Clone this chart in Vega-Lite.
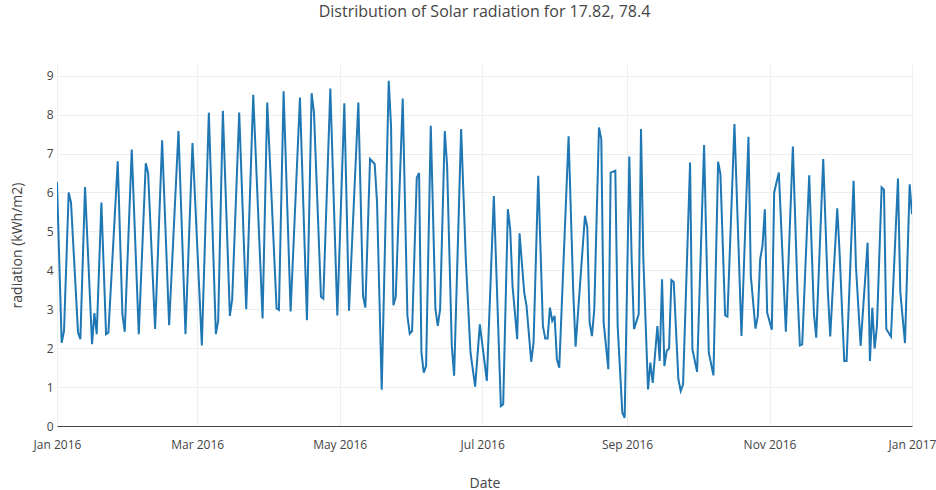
{
  "$schema": "https://vega.github.io/schema/vega-lite/v6.json",
  "autosize": {"type": "none"},
  "width": 855,
  "height": 362,
  "padding": {"left": 57, "top": 64, "right": 24, "bottom": 64},
  "background": "white",
  "title": {
    "text": "Distribution of Solar radiation for 17.82, 78.4",
    "font": "Open Sans",
    "fontSize": 16,
    "fontWeight": "normal",
    "color": "#444",
    "anchor": "middle",
    "offset": 44
  },
  "config": {
    "view": {"stroke": null},
    "axis": {"labelFont": "Open Sans", "titleFont": "Open Sans", "labelColor": "#444", "titleColor": "#444", "titleFontWeight": "normal"}
  },
  "data": {"values": [
    {"d":"2016-01-01","v":6.26},{"d":"2016-01-03","v":2.14},{"d":"2016-01-04","v":2.44},{"d":"2016-01-06","v":6.0},{"d":"2016-01-07","v":5.74},
    {"d":"2016-01-10","v":2.4},{"d":"2016-01-11","v":2.23},{"d":"2016-01-13","v":6.14},{"d":"2016-01-16","v":2.1},{"d":"2016-01-17","v":2.9},
    {"d":"2016-01-18","v":2.36},{"d":"2016-01-20","v":5.74},{"d":"2016-01-22","v":2.36},{"d":"2016-01-23","v":2.4},{"d":"2016-01-27","v":6.8},
    {"d":"2016-01-29","v":2.87},{"d":"2016-01-30","v":2.42},{"d":"2016-02-02","v":7.1},{"d":"2016-02-05","v":2.36},{"d":"2016-02-08","v":6.75},
    {"d":"2016-02-09","v":6.5},{"d":"2016-02-12","v":2.49},{"d":"2016-02-15","v":7.34},{"d":"2016-02-18","v":2.59},{"d":"2016-02-22","v":7.58},
    {"d":"2016-02-25","v":2.36},{"d":"2016-02-28","v":7.27},{"d":"2016-03-03","v":2.07},{"d":"2016-03-06","v":8.05},{"d":"2016-03-09","v":2.36},
    {"d":"2016-03-10","v":2.7},{"d":"2016-03-12","v":8.1},{"d":"2016-03-15","v":2.83},{"d":"2016-03-16","v":3.26},{"d":"2016-03-19","v":8.05},
    {"d":"2016-03-22","v":3.0},{"d":"2016-03-25","v":8.51},{"d":"2016-03-29","v":2.76},{"d":"2016-03-31","v":8.31},{"d":"2016-04-04","v":3.02},
    {"d":"2016-04-05","v":2.98},{"d":"2016-04-07","v":8.6},{"d":"2016-04-10","v":2.94},{"d":"2016-04-14","v":8.44},{"d":"2016-04-17","v":2.72},
    {"d":"2016-04-19","v":8.55},{"d":"2016-04-20","v":8.05},{"d":"2016-04-23","v":3.32},{"d":"2016-04-24","v":3.27},{"d":"2016-04-27","v":8.67},
    {"d":"2016-04-30","v":2.84},{"d":"2016-05-03","v":8.29},{"d":"2016-05-05","v":2.96},{"d":"2016-05-09","v":8.31},{"d":"2016-05-11","v":3.34},
    {"d":"2016-05-12","v":3.04},{"d":"2016-05-14","v":6.86},{"d":"2016-05-16","v":6.73},{"d":"2016-05-17","v":5.74},{"d":"2016-05-19","v":0.93},
    {"d":"2016-05-22","v":8.87},{"d":"2016-05-23","v":7.7},{"d":"2016-05-24","v":3.1},{"d":"2016-05-25","v":3.32},{"d":"2016-05-28","v":8.41},
    {"d":"2016-05-30","v":2.83},{"d":"2016-05-31","v":2.37},{"d":"2016-06-01","v":2.44},{"d":"2016-06-03","v":6.38},{"d":"2016-06-04","v":6.5},
    {"d":"2016-06-05","v":1.89},{"d":"2016-06-06","v":1.37},{"d":"2016-06-07","v":1.54},{"d":"2016-06-09","v":7.71},{"d":"2016-06-11","v":3.0},
    {"d":"2016-06-12","v":2.57},{"d":"2016-06-13","v":3.0},{"d":"2016-06-15","v":7.58},{"d":"2016-06-16","v":6.68},{"d":"2016-06-18","v":2.06},
    {"d":"2016-06-19","v":1.29},{"d":"2016-06-22","v":7.63},{"d":"2016-06-24","v":4.28},{"d":"2016-06-26","v":1.89},{"d":"2016-06-28","v":1.01},
    {"d":"2016-06-30","v":2.61},{"d":"2016-07-03","v":1.16},{"d":"2016-07-06","v":5.91},{"d":"2016-07-09","v":0.51},{"d":"2016-07-10","v":0.56},
    {"d":"2016-07-12","v":5.57},{"d":"2016-07-13","v":5.06},{"d":"2016-07-14","v":3.6},{"d":"2016-07-16","v":2.23},{"d":"2016-07-17","v":4.95},
    {"d":"2016-07-19","v":3.43},{"d":"2016-07-20","v":3.08},{"d":"2016-07-22","v":1.65},{"d":"2016-07-23","v":2.14},{"d":"2016-07-25","v":6.43},
    {"d":"2016-07-27","v":2.57},{"d":"2016-07-28","v":2.25},{"d":"2016-07-29","v":2.25},{"d":"2016-07-30","v":3.04},{"d":"2016-07-31","v":2.7},
    {"d":"2016-08-01","v":2.83},{"d":"2016-08-02","v":1.71},{"d":"2016-08-03","v":1.5},{"d":"2016-08-07","v":7.44},{"d":"2016-08-09","v":3.43},
    {"d":"2016-08-10","v":2.04},{"d":"2016-08-14","v":5.4},{"d":"2016-08-15","v":5.1},{"d":"2016-08-16","v":2.66},{"d":"2016-08-17","v":2.31},
    {"d":"2016-08-18","v":3.0},{"d":"2016-08-20","v":7.67},{"d":"2016-08-21","v":7.37},{"d":"2016-08-22","v":2.66},{"d":"2016-08-24","v":1.46},
    {"d":"2016-08-25","v":6.51},{"d":"2016-08-27","v":6.56},{"d":"2016-08-28","v":2.57},{"d":"2016-08-30","v":0.34},{"d":"2016-08-31","v":0.21},
    {"d":"2016-09-02","v":6.92},{"d":"2016-09-03","v":4.28},{"d":"2016-09-04","v":2.49},{"d":"2016-09-06","v":2.87},{"d":"2016-09-07","v":7.63},
    {"d":"2016-09-08","v":4.28},{"d":"2016-09-10","v":0.94},{"d":"2016-09-11","v":1.63},{"d":"2016-09-12","v":1.11},{"d":"2016-09-14","v":2.57},
    {"d":"2016-09-15","v":1.67},{"d":"2016-09-16","v":3.77},{"d":"2016-09-17","v":1.54},{"d":"2016-09-18","v":1.93},{"d":"2016-09-19","v":1.99},
    {"d":"2016-09-20","v":3.75},{"d":"2016-09-21","v":3.7},{"d":"2016-09-23","v":1.2},{"d":"2016-09-24","v":0.9},{"d":"2016-09-25","v":1.07},
    {"d":"2016-09-28","v":6.77},{"d":"2016-09-29","v":1.97},{"d":"2016-10-01","v":1.39},{"d":"2016-10-04","v":7.22},{"d":"2016-10-06","v":1.89},
    {"d":"2016-10-08","v":1.3},{"d":"2016-10-10","v":6.79},{"d":"2016-10-11","v":6.47},{"d":"2016-10-13","v":2.84},{"d":"2016-10-14","v":2.81},
    {"d":"2016-10-17","v":7.76},{"d":"2016-10-20","v":2.31},{"d":"2016-10-23","v":7.43},{"d":"2016-10-24","v":3.86},{"d":"2016-10-26","v":2.5},
    {"d":"2016-10-27","v":2.83},{"d":"2016-10-28","v":4.28},{"d":"2016-10-29","v":4.63},{"d":"2016-10-30","v":5.57},{"d":"2016-10-31","v":2.91},
    {"d":"2016-11-02","v":2.47},{"d":"2016-11-03","v":6.0},{"d":"2016-11-05","v":6.51},{"d":"2016-11-08","v":2.42},{"d":"2016-11-11","v":7.18},
    {"d":"2016-11-13","v":3.43},{"d":"2016-11-14","v":2.07},{"d":"2016-11-15","v":2.1},{"d":"2016-11-18","v":6.44},{"d":"2016-11-20","v":2.91},
    {"d":"2016-11-21","v":2.27},{"d":"2016-11-24","v":6.86},{"d":"2016-11-26","v":3.43},{"d":"2016-11-27","v":2.3},{"d":"2016-11-28","v":3.43},
    {"d":"2016-11-30","v":5.59},{"d":"2016-12-01","v":4.46},{"d":"2016-12-03","v":1.67},{"d":"2016-12-04","v":1.67},{"d":"2016-12-07","v":6.3},
    {"d":"2016-12-08","v":4.11},{"d":"2016-12-10","v":2.06},{"d":"2016-12-13","v":4.71},{"d":"2016-12-14","v":1.67},{"d":"2016-12-15","v":3.04},
    {"d":"2016-12-16","v":1.99},{"d":"2016-12-17","v":2.57},{"d":"2016-12-19","v":6.13},{"d":"2016-12-20","v":6.07},{"d":"2016-12-21","v":2.49},
    {"d":"2016-12-23","v":2.3},{"d":"2016-12-26","v":6.36},{"d":"2016-12-27","v":3.43},{"d":"2016-12-29","v":2.13},{"d":"2016-12-31","v":6.21},
    {"d":"2017-01-01","v":5.44}
  ]},
  "mark": {"type": "line", "color": "#1f77b4", "strokeWidth": 2, "clip": true},
  "encoding": {
    "x": {
      "field": "d",
      "type": "temporal",
      "scale": {"type": "utc", "domain": [{"year": 2016, "month": 1, "date": 1, "utc": true}, {"year": 2017, "month": 1, "date": 1, "utc": true}]},
      "axis": {
        "title": "Date",
        "titleFontSize": 14,
        "titlePadding": 26,
        "values": [
          {"year": 2016, "month": 1, "date": 1, "utc": true},
          {"year": 2016, "month": 3, "date": 1, "utc": true},
          {"year": 2016, "month": 5, "date": 1, "utc": true},
          {"year": 2016, "month": 7, "date": 1, "utc": true},
          {"year": 2016, "month": 9, "date": 1, "utc": true},
          {"year": 2016, "month": 11, "date": 1, "utc": true},
          {"year": 2017, "month": 1, "date": 1, "utc": true}
        ],
        "labelExpr": "utcFormat(datum.value, '%b %Y')",
        "labelFontSize": 12,
        "labelPadding": 13,
        "labelFlush": false,
        "labelOverlap": false,
        "ticks": false,
        "grid": true,
        "gridColor": "#eeeeee",
        "domain": true,
        "domainColor": "#444444",
        "domainWidth": 1.2
      }
    },
    "y": {
      "field": "v",
      "type": "quantitative",
      "scale": {"domain": [0, 9.3], "nice": false, "zero": true},
      "axis": {
        "title": "radiation (kWh/m2)",
        "titleFontSize": 14,
        "titlePadding": 22,
        "values": [0, 1, 2, 3, 4, 5, 6, 7, 8, 9],
        "labelFontSize": 12,
        "labelPadding": 4,
        "ticks": false,
        "domain": false,
        "grid": true,
        "gridColor": "#eeeeee"
      }
    }
  }
}
